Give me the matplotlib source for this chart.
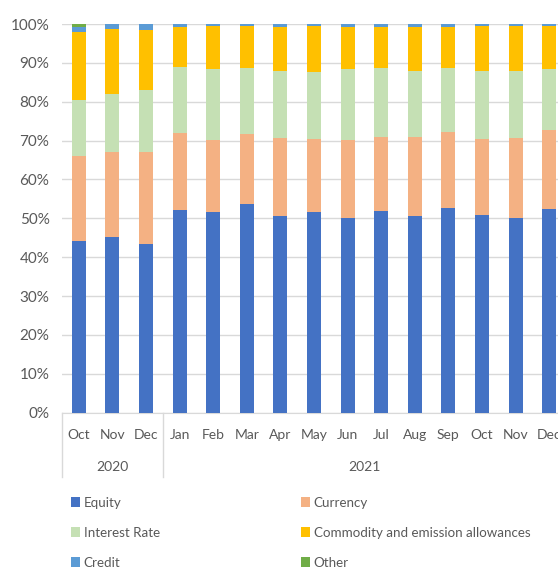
import matplotlib.pyplot as plt
from matplotlib.patches import Patch

# monthly shares (percent) per asset class
months = ["Oct", "Nov", "Dec", "Jan", "Feb", "Mar", "Apr", "May", "Jun",
          "Jul", "Aug", "Sep", "Oct", "Nov", "Dec"]
years = ["2020", "2021"]
year_spans = [3, 12]

equity = [44.2, 45.3, 43.3, 52.2, 51.7, 53.6, 50.7, 51.6, 50.2, 52.0, 50.6, 52.7, 50.9, 50.2, 52.4]
currency = [21.8, 21.8, 23.8, 19.7, 18.5, 18.0, 20.1, 18.7, 19.9, 19.0, 20.4, 19.4, 19.4, 20.6, 20.3]
interest_rate = [14.5, 14.9, 15.9, 17.0, 18.1, 17.2, 17.1, 17.4, 18.3, 17.6, 16.8, 16.7, 17.6, 17.0, 15.7]
commodity = [17.5, 16.7, 15.5, 10.3, 11.2, 10.7, 11.3, 11.8, 10.8, 10.6, 11.4, 10.4, 11.6, 11.7, 11.1]
credit = [1.1, 1.3, 1.5, 0.8, 0.5, 0.5, 0.8, 0.5, 0.8, 0.8, 0.8, 0.8, 0.5, 0.5, 0.5]
other = [0.9, 0, 0, 0, 0, 0, 0, 0, 0, 0, 0, 0, 0, 0, 0]

series = [
    ("Equity", equity, "#4472C4"),
    ("Currency", currency, "#F4B183"),
    ("Interest Rate", interest_rate, "#C5E0B4"),
    ("Commodity and emission allowances", commodity, "#FFC000"),
    ("Credit", credit, "#5B9BD5"),
    ("Other", other, "#70AD47"),
]

plt.rcParams['font.family'] = ['Lato', 'DejaVu Sans']
txt = "#595959"
W, H = 558, 569

fig = plt.figure(figsize=(W / 100, H / 100), dpi=100)

# main bar axes (runs past the right edge like the cropped original)
ax = fig.add_axes([62 / W, (H - 412.7) / H, 504 / W, 388.7 / H])
x = list(range(len(months)))
bottom = [0.0] * len(months)
for name, vals, col in series:
    ax.bar(x, [v / 100 for v in vals], 0.42, bottom=bottom, color=col, zorder=3)
    bottom = [b + v / 100 for b, v in zip(bottom, vals)]

ax.set_xlim(-0.5, len(months) - 0.5)
ax.set_ylim(0, 1)
ax.set_yticks([i / 10 for i in range(11)])
ax.set_yticklabels(["%d%%" % (i * 10) for i in range(11)], color=txt, fontsize=11)
ax.tick_params(axis='y', length=0, pad=9)
ax.set_xticks([])
ax.grid(axis='y', color="#D9D9D9", linewidth=1, zorder=0)
for s in ["top", "right", "left"]:
    ax.spines[s].set_visible(False)
ax.spines["bottom"].set_color("#D9D9D9")

# two-level category labels
lab = fig.add_axes([62 / W, (H - 477) / H, 504 / W, (477 - 412.7) / H])
lab.set_xlim(-0.5, len(months) - 0.5)
lab.set_ylim(477, 412.7)
lab.axis('off')
for i, m in enumerate(months):
    lab.text(i, 435, m, ha='center', va='center', color=txt, fontsize=10)
start = -0.5
for yr, span in zip(years, year_spans):
    lab.plot([start, start], [412.7, 477], color="#D9D9D9", lw=1, clip_on=False)
    lab.text(start + span / 2, 467, yr, ha='center', va='center', color=txt, fontsize=10)
    start += span

# legend in two columns
def make_legend(items, xpx):
    handles = [Patch(facecolor=c, edgecolor='none') for _, _, c in items]
    names = [n for n, _, _ in items]
    leg = fig.legend(handles, names, loc='upper left',
                     bbox_to_anchor=(xpx / W, (H - 497) / H), frameon=False,
                     fontsize=9.6, labelcolor=txt, handlelength=0.65,
                     handleheight=0.75, handletextpad=0.3, labelspacing=1.35,
                     borderpad=0, borderaxespad=0)
    return leg

make_legend([series[0], series[2], series[4]], 71)
make_legend([series[1], series[3], series[5]], 301)

fig.savefig("out.png", dpi=100)
